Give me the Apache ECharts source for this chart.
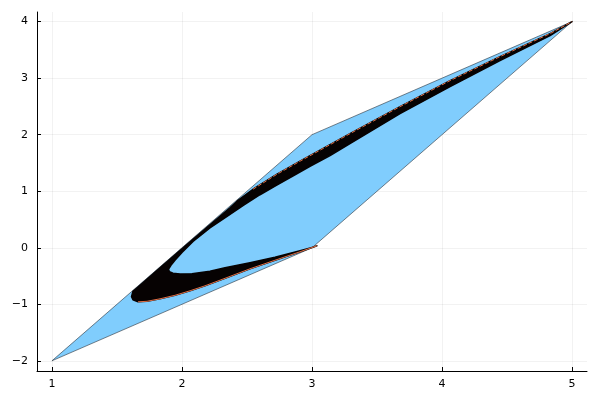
<!DOCTYPE html>
<html>
<head>
<meta charset="utf-8">
<script src="https://cdn.jsdelivr.net/npm/echarts@6/dist/echarts.min.js"></script>
<style>html,body{margin:0;padding:0;background:#fff}#c{width:600px;height:400px}</style>
</head>
<body>
<div id="c"></div>
<script>
// Polygon (shape) vertices
const polyX = [1, 3, 5, 3];
const polyY = [-2, 2, 4, 0];

// Outer edge of the curve band, lower branch (start -> tip)
const lowerX = [3.038, 2.908, 2.715, 2.523, 2.331, 2.177, 2.062, 1.946, 1.831, 1.731, 1.662, 1.623, 1.612];
const lowerY = [0.035, -0.071, -0.221, -0.372, -0.540, -0.673, -0.761, -0.841, -0.903, -0.947, -0.956, -0.920, -0.867];

// Outer edge of the band next to the shape edge (tip -> upper branch)
const edgeX = [1.623, 1.677, 1.831, 2.062, 2.292, 2.369, 2.423];
const edgeY = [-0.770, -0.664, -0.354, 0.106, 0.558, 0.708, 0.823];

// Upper branch of the curve (-> end point)
const upperX = [2.546, 2.731, 2.908, 3.292, 3.677, 4.062, 4.446, 4.831, 5.0];
const upperY = [1.035, 1.301, 1.531, 2.018, 2.496, 2.956, 3.381, 3.788, 4.0];

// Inner edge of the band, upper part (end -> inner tip)
const innerUpX = [5.0, 4.831, 4.446, 4.062, 3.677, 3.292, 3.139, 2.985, 2.856, 2.729, 2.600, 2.472, 2.344, 2.215, 2.085, 2.000, 1.946, 1.915, 1.896];
const innerUpY = [4.0, 3.752, 3.310, 2.850, 2.372, 1.841, 1.630, 1.442, 1.274, 1.106, 0.938, 0.750, 0.550, 0.350, 0.110, -0.082, -0.221, -0.310, -0.381];

// Inner edge of the band, lower part (inner tip -> start)
const innerLowX = [1.904, 1.931, 1.985, 2.077, 2.215, 2.331, 2.523, 2.715, 2.908, 3.008, 3.038];
const innerLowY = [-0.425, -0.451, -0.465, -0.460, -0.416, -0.354, -0.265, -0.168, -0.053, 0.009, 0.035];

// Tick values
const xTicks = [1, 2, 3, 4, 5];
const yTicks = [-2, -1, 0, 1, 2, 3, 4];

const zip = (xs, ys) => xs.map((x, i) => [x, ys[i]]);
const bandPts = [].concat(zip(lowerX, lowerY), zip(edgeX, edgeY), zip(upperX, upperY), zip(innerUpX, innerUpY), zip(innerLowX, innerLowY));
const polyPts = zip(polyX, polyY);

const fmt = v => (v < 0 ? '\u2212' + (-v) : String(v));
const FONT = 'DejaVu Sans';

const chart = echarts.init(document.getElementById('c'), null, {renderer: 'canvas'});
chart.setOption({
  animation: false,
  backgroundColor: '#fff',
  grid: {left: 37, right: 13, top: 12, bottom: 29, containLabel: false},
  xAxis: {
    type: 'value', min: 0.885, max: 5.115,
    axisLine: {show: true, onZero: false, lineStyle: {color: '#000', width: 1}},
    axisTick: {show: true, inside: true, length: 4, customValues: xTicks, lineStyle: {color: '#000'}},
    axisLabel: {customValues: xTicks, formatter: fmt, color: '#000', fontFamily: FONT, fontSize: 11, margin: 8},
    splitLine: {show: true, lineStyle: {color: 'rgba(0,0,0,0.1)', width: 0.5}}
  },
  yAxis: {
    type: 'value', min: -2.18, max: 4.17,
    axisLine: {show: true, onZero: false, lineStyle: {color: '#000', width: 1}},
    axisTick: {show: true, inside: true, length: 4, customValues: yTicks, lineStyle: {color: '#000'}},
    axisLabel: {customValues: yTicks, formatter: fmt, color: '#000', fontFamily: FONT, fontSize: 11, margin: 9},
    splitLine: {show: true, lineStyle: {color: 'rgba(0,0,0,0.1)', width: 0.5}}
  },
  series: [
    {
      type: 'custom', z: 1, clip: true,
      data: polyPts,
      renderItem: (params, api) => {
        if (params.dataIndex !== 0) return null;
        return {type: 'polygon', shape: {points: polyPts.map(p => api.coord(p))},
          style: {fill: '#80cdfd', stroke: 'rgba(40,50,60,0.6)', lineWidth: 1}};
      }
    },
    {
      type: 'custom', z: 2, clip: true,
      data: bandPts,
      renderItem: (params, api) => {
        if (params.dataIndex !== 0) return null;
        return {type: 'polygon', shape: {points: bandPts.map(p => api.coord(p))},
          style: {fill: '#060202', stroke: '#060202', lineWidth: 1.5, lineJoin: 'round'}};
      }
    },
    {
      type: 'line', z: 3, showSymbol: false, silent: true,
      data: zip(lowerX, lowerY).slice(0, 11),
      lineStyle: {color: '#e26f46', width: 1}
    },
    {
      type: 'line', z: 3, showSymbol: false, silent: true,
      data: zip(upperX, upperY),
      lineStyle: {color: '#e26f46', width: 1, type: [4, 2]}
    }
  ]
});
</script>
</body>
</html>
